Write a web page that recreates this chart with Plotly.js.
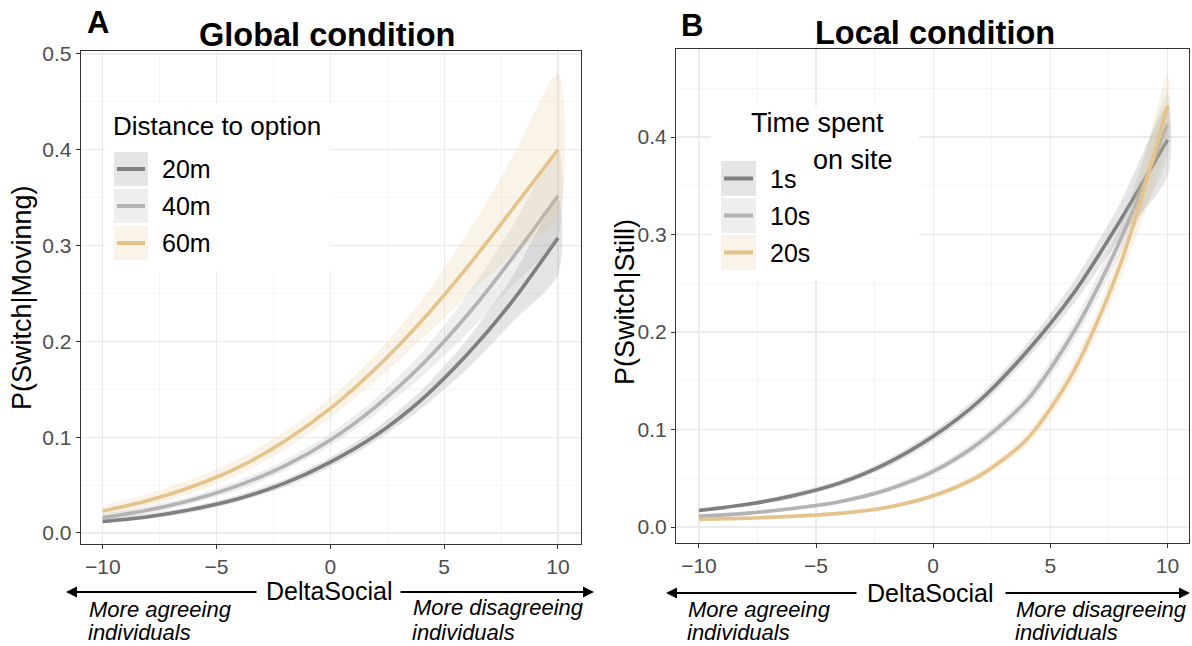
<!DOCTYPE html>
<html>
<head>
<meta charset="utf-8">
<script src="https://cdn.plot.ly/plotly-3.0.1.min.js"></script>
<style>html,body{margin:0;padding:0;background:#fff;}#chart{width:1192px;height:646px;}</style>
</head>
<body>
<div id="chart"></div>
<script>
// ---------------- DATA ----------------
const deltaSocial = [-10, -8, -6, -4, -2, 0, 2, 4, 6, 8, 10];

// Panel A: Global condition, P(Switch|Moving) by distance to option
const globalSeries = ["20m", "40m", "60m"];
const global20 = [0.012, 0.017, 0.025, 0.036, 0.052, 0.074, 0.102, 0.139, 0.186, 0.242, 0.308];
const global20Lo = [0.010, 0.015, 0.022, 0.033, 0.048, 0.069, 0.096, 0.130, 0.171, 0.220, 0.270];
const global20Hi = [0.015, 0.020, 0.028, 0.040, 0.056, 0.079, 0.109, 0.149, 0.202, 0.268, 0.348];
const global40 = [0.016, 0.024, 0.035, 0.050, 0.070, 0.097, 0.132, 0.175, 0.227, 0.287, 0.352];
const global40Lo = [0.013, 0.020, 0.031, 0.045, 0.065, 0.091, 0.124, 0.163, 0.208, 0.258, 0.310];
const global40Hi = [0.020, 0.028, 0.039, 0.055, 0.076, 0.104, 0.141, 0.188, 0.248, 0.320, 0.400];
const global60 = [0.023, 0.034, 0.049, 0.069, 0.096, 0.130, 0.172, 0.221, 0.277, 0.338, 0.400];
const global60Lo = [0.018, 0.028, 0.042, 0.061, 0.087, 0.120, 0.159, 0.202, 0.247, 0.291, 0.330];
const global60Hi = [0.029, 0.041, 0.057, 0.078, 0.106, 0.141, 0.187, 0.243, 0.312, 0.392, 0.480];

// Panel B: Local condition, P(Switch|Still) by time spent on site
const localSeries = ["1s", "10s", "20s"];
const local1 = [0.017, 0.023, 0.032, 0.045, 0.065, 0.093, 0.130, 0.180, 0.240, 0.315, 0.397];
const local1Lo = [0.015, 0.021, 0.029, 0.042, 0.061, 0.088, 0.124, 0.172, 0.229, 0.297, 0.360];
const local1Hi = [0.019, 0.025, 0.035, 0.048, 0.069, 0.098, 0.136, 0.188, 0.252, 0.333, 0.432];
const local10 = [0.011, 0.014, 0.019, 0.026, 0.038, 0.057, 0.087, 0.130, 0.200, 0.295, 0.413];
const local10Lo = [0.009, 0.012, 0.017, 0.024, 0.035, 0.053, 0.082, 0.123, 0.190, 0.280, 0.380];
const local10Hi = [0.013, 0.016, 0.021, 0.028, 0.041, 0.061, 0.092, 0.137, 0.210, 0.310, 0.445];
const local20 = [0.008, 0.009, 0.011, 0.014, 0.020, 0.032, 0.053, 0.090, 0.160, 0.270, 0.432];
const local20Lo = [0.006, 0.007, 0.009, 0.012, 0.018, 0.029, 0.049, 0.084, 0.150, 0.255, 0.400];
const local20Hi = [0.010, 0.011, 0.013, 0.016, 0.022, 0.035, 0.057, 0.096, 0.170, 0.285, 0.465];

const xTickVals = [-10, -5, 0, 5, 10];
const xTickText = ["\u221210", "\u22125", "0", "5", "10"];
const yTickValsA = [0, 0.1, 0.2, 0.3, 0.4, 0.5];
const yTickTextA = ["0.0", "0.1", "0.2", "0.3", "0.4", "0.5"];
const yTickValsB = [0, 0.1, 0.2, 0.3, 0.4];
const yTickTextB = ["0.0", "0.1", "0.2", "0.3", "0.4"];

// ---------------- STYLE ----------------
const lineCols = ["#7f7f7f", "#b3b3b3", "#e6c38c"];
const bandCols = ["rgba(127,127,127,0.2)", "rgba(179,179,179,0.22)", "rgba(230,195,140,0.2)"];
const FONT = "Liberation Sans, Arial, Helvetica, sans-serif";
const W = 1192, H = 646;
const px = x => x / W;
const py = y => 1 - y / H;

const traces = [];
function addSeries(xa, ya, mid, lo, hi, i, name) {
  traces.push({
    x: deltaSocial.concat(deltaSocial.slice().reverse()),
    y: hi.concat(lo.slice().reverse()),
    xaxis: xa, yaxis: ya, type: "scatter", mode: "lines",
    fill: "toself", fillcolor: bandCols[i], line: {width: 0, shape: "spline", smoothing: 0.8},
    hoverinfo: "skip", showlegend: false
  });
  traces.push({
    x: deltaSocial, y: mid, xaxis: xa, yaxis: ya, type: "scatter", mode: "lines",
    name: name, line: {color: lineCols[i], width: 3.6, shape: "spline", smoothing: 0.8},
    showlegend: false
  });
}
addSeries("x", "y", global20, global20Lo, global20Hi, 0, globalSeries[0]);
addSeries("x", "y", global40, global40Lo, global40Hi, 1, globalSeries[1]);
addSeries("x", "y", global60, global60Lo, global60Hi, 2, globalSeries[2]);
addSeries("x2", "y2", local1, local1Lo, local1Hi, 0, localSeries[0]);
addSeries("x2", "y2", local10, local10Lo, local10Hi, 1, localSeries[1]);
addSeries("x2", "y2", local20, local20Lo, local20Hi, 2, localSeries[2]);

function xaxisCfg(domain, range) {
  return {
    domain: domain, range: range, tickvals: xTickVals, ticktext: xTickText,
    showgrid: true, gridcolor: "#ebebeb", gridwidth: 1.3,
    minor: {tickvals: [-7.5, -2.5, 2.5, 7.5], showgrid: true, gridcolor: "#f3f3f3", gridwidth: 0.8, ticks: ""},
    zeroline: false, showline: true, mirror: true, linecolor: "#333333", linewidth: 1,
    ticks: "outside", ticklen: 4, tickcolor: "#333333", tickwidth: 1,
    tickfont: {family: FONT, size: 21, color: "#4d4d4d"}, fixedrange: true
  };
}
function yaxisCfg(domain, range, tv, tt, minorVals, anchor) {
  return {
    domain: domain, range: range, tickvals: tv, ticktext: tt, anchor: anchor,
    showgrid: true, gridcolor: "#ebebeb", gridwidth: 1.3,
    minor: {tickvals: minorVals, showgrid: true, gridcolor: "#f3f3f3", gridwidth: 0.8, ticks: ""},
    zeroline: false, showline: true, mirror: true, linecolor: "#333333", linewidth: 1,
    ticks: "outside", ticklen: 4, tickcolor: "#333333", tickwidth: 1,
    tickfont: {family: FONT, size: 21, color: "#4d4d4d"}, fixedrange: true
  };
}

const shapes = [];
const annotations = [];
function txt(x, y, text, size, opts) {
  annotations.push(Object.assign({
    xref: "paper", yref: "paper", x: px(x), y: py(y), text: text, showarrow: false,
    font: {family: FONT, size: size, color: "#000"}, xanchor: "center", yanchor: "middle"
  }, opts || {}));
}
function arrow(tailX, tipX, y) {
  annotations.push({
    xref: "paper", yref: "paper", x: px(tipX), y: py(y), ax: tailX - tipX, ay: 0,
    axref: "pixel", ayref: "pixel", text: "", showarrow: true,
    arrowhead: 2, arrowsize: 1.1, arrowwidth: 2, arrowcolor: "#000", standoff: 0, startstandoff: 0
  });
}
function legendBox(x0, y0, x1, y1) {
  shapes.push({type: "rect", xref: "paper", yref: "paper", x0: px(x0), x1: px(x1), y0: py(y1), y1: py(y0),
    fillcolor: "#ffffff", line: {width: 0}, layer: "above"});
}
function legendKey(x0, y0, size, i, label, textX) {
  shapes.push({type: "rect", xref: "paper", yref: "paper", x0: px(x0), x1: px(x0 + size), y0: py(y0 + size), y1: py(y0),
    fillcolor: bandCols[i], line: {width: 0}, layer: "above"});
  shapes.push({type: "line", xref: "paper", yref: "paper", x0: px(x0 + 3), x1: px(x0 + size - 3), y0: py(y0 + size / 2), y1: py(y0 + size / 2),
    line: {color: lineCols[i], width: 4}, layer: "above"});
  txt(textX, y0 + size / 2, label, 25, {xanchor: "left"});
}

// Panel A legend
legendBox(105, 104, 331, 271);
txt(111, 126, "Distance to option", 26, {xanchor: "left"});
legendKey(114, 152, 34, 0, globalSeries[0], 160);
legendKey(114, 189, 34, 1, globalSeries[1], 160);
legendKey(114, 226, 34, 2, globalSeries[2], 160);

// Panel B legend
legendBox(711, 106, 919, 281);
txt(749, 123, "Time spent", 27, {xanchor: "left"});
txt(811, 160, "on site", 27, {xanchor: "left"});
legendKey(721, 161, 35, 0, localSeries[0], 768);
legendKey(721, 198, 35, 1, localSeries[1], 768);
legendKey(721, 235, 35, 2, localSeries[2], 768);

// Titles and panel tags
txt(98, 23, "<b>A</b>", 31);
txt(327, 35, "<b>Global condition</b>", 32.5);
txt(692, 25, "<b>B</b>", 31);
txt(935, 33, "<b>Local condition</b>", 32.5);

// Axis titles
txt(22, 298, "P(Switch|Movinng)", 27, {textangle: -90});
txt(625, 302, "P(Switch|Still)", 27, {textangle: -90});

// X-axis titles with arrows
const bottomText = {xanchor: "left", yanchor: "bottom", borderpad: 0};
txt(329, 591, "DeltaSocial", 25);
arrow(258, 66, 592);
arrow(399, 594, 592);
txt(87, 609, "<i>More agreeing</i>", 22, {xanchor: "left"});
txt(87, 646, "<i>individuals</i>", 22, bottomText);
txt(411, 607, "<i>More disagreeing</i>", 22, {xanchor: "left"});
txt(411, 646, "<i>individuals</i>", 22, bottomText);

txt(930, 593, "DeltaSocial", 25);
arrow(858, 666, 593);
arrow(1004, 1190, 593);
txt(686, 609, "<i>More agreeing</i>", 22, {xanchor: "left"});
txt(686, 646, "<i>individuals</i>", 22, bottomText);
txt(1014, 609, "<i>More disagreeing</i>", 22, {xanchor: "left"});
txt(1014, 646, "<i>individuals</i>", 22, bottomText);

const layout = {
  width: W, height: H, margin: {l: 0, r: 0, t: 0, b: 0},
  paper_bgcolor: "#ffffff", plot_bgcolor: "#ffffff", showlegend: false,
  font: {family: FONT},
  xaxis: xaxisCfg([px(80.7), px(580.7)], [-10.97, 11.0]),
  yaxis: yaxisCfg([1 - 544 / H, 1 - 50.7 / H], [-0.0115, 0.5034], yTickValsA, yTickTextA, [0.05, 0.15, 0.25, 0.35, 0.45], "x"),
  xaxis2: Object.assign(xaxisCfg([px(676), px(1189)], [-10.98, 10.92]), {anchor: "y2"}),
  yaxis2: yaxisCfg([1 - 543 / H, 1 - 49 / H], [-0.0164, 0.4903], yTickValsB, yTickTextB, [0.05, 0.15, 0.25, 0.35, 0.45], "x2"),
  shapes: shapes, annotations: annotations
};
layout.xaxis.anchor = "y";

Plotly.newPlot("chart", traces, layout, {displayModeBar: false, staticPlot: true});
</script>
</body>
</html>
